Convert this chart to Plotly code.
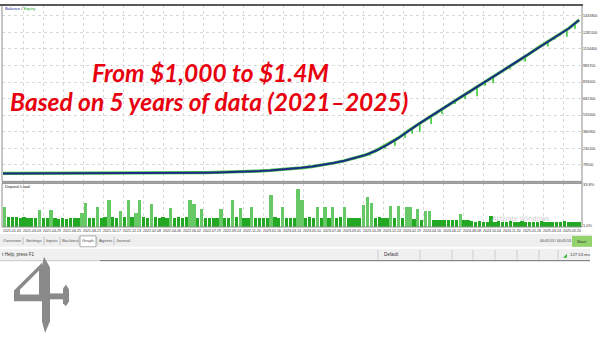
import plotly.graph_objects as go
import pandas as pd

# ---------------- data ----------------
balance = [1000, 1080, 1160, 1250, 1360, 1480, 1600, 1750, 1920, 2100, 2350, 2600,
           2900, 3300, 3700, 4200, 4900, 5800, 7000, 8600, 10400, 12500, 15000, 18500,
           23000, 28500, 35000, 43000, 52000, 64000, 78000, 96000, 117000, 140000, 170000, 210000,
           262000, 322000, 390000, 455000, 517000, 578000, 640000, 702000, 764000, 826000,
           888000, 950000, 1011000, 1073000, 1135000, 1197000, 1259000, 1321000, 1398000]

dip_dates = ["2023-02-11", "2023-10-05", "2023-11-17", "2023-12-30", "2024-01-27", "2024-02-25",
             "2024-03-16", "2024-04-07", "2024-05-09", "2024-05-26", "2024-06-09", "2024-07-16",
             "2024-08-14", "2024-08-29", "2024-09-17", "2024-10-10", "2024-11-02", "2024-12-20",
             "2025-02-01", "2025-02-15", "2025-04-07", "2025-04-27", "2025-05-11", "2025-05-31",
             "2025-06-23"]
dip_top = [26000, 140000, 185000, 245000, 295000, 373000, 413000, 461000, 524000, 560000, 588000,
           663000, 721000, 752000, 791000, 835000, 884000, 982000, 1070000, 1098000, 1202000,
           1245000, 1275000, 1312000, 1358000]
dip_low = [20000, 128000, 163000, 225000, 254000, 326000, 362000, 380000, 452000, 540000, 542000,
           633000, 678000, 730000, 705000, 800000, 822000, 949000, 1021000, 1085000, 1156000,
           1220000, 1250000, 1246000, 1319000]

deposit_load = [15.5, 8, 7.5, 8, 7, 7.5, 7, 6.5, 7, 13, 7, 6.5, 13, 7, 6, 6.5, 6, 7, 6.5, 7,
                11, 18.5, 7, 6.5, 15.5, 7, 7.5, 21, 8, 7, 12, 7.5, 21, 8, 11, 21, 7.5, 7, 17.8, 8,
                7, 7.5, 7, 14.7, 7, 7.5, 7, 8, 21, 17.8, 7, 13.9, 7, 6.5, 7, 6.5, 13.9, 7, 7, 21,
                7.5, 14.7, 7, 7, 15.5, 7, 6.5, 7, 7, 24.7, 7.5, 7, 15.5, 7, 7, 7, 30, 21, 7, 7.5,
                7, 15.5, 7, 15.5, 7, 15.5, 7, 7.5, 15.5, 7, 7, 6.5, 7, 17, 23.2, 18.5, 7, 7.5, 7, 7,
                16.2, 7, 16.2, 6.5, 15.5, 15.5, 6, 13.9, 5.5, 12.4, 12.4, 5.5, 5.5, 5, 5.5, 5.5, 5, 5.5, 10, 5.5,
                5, 4.5, 4, 4.5, 4, 4, 8.5, 4, 4.5, 4, 4, 4.5, 4, 4, 4.5, 4, 3.5, 4, 4, 4.5,
                4, 4, 3.5, 4, 4, 4.5, 4, 4, 4, 4]

date_labels = ["2021.01.05", "2021.03.03", "2021.04.29", "2021.06.25", "2021.08.21", "2021.10.17",
               "2021.12.13", "2022.02.08", "2022.04.06", "2022.06.02", "2022.07.29", "2022.09.24",
               "2022.11.20", "2023.01.16", "2023.03.14", "2023.05.10", "2023.07.06", "2023.09.01",
               "2023.10.28", "2023.12.24", "2024.02.19", "2024.04.16", "2024.06.12", "2024.08.08",
               "2024.10.04", "2024.11.30", "2025.01.26", "2025.03.24", "2025.05.20"]

balance_ticks = [79500, 230200, 380900, 531600, 682300, 833000, 983700, 1134400, 1285100, 1435800]
load_ticks = [33.8, 1.0]
load_tick_text = ["33.8%", "1.0%"]

tabs = ["Overview", "Settings", "Inputs", "Backtest", "Graph", "Agents", "Journal"]

# ---------------- geometry helpers ----------------
W, H = 600, 338
def px(x): return x / W
def py(y): return 1 - y / H

START = pd.Timestamp("2021-01-05")
DPP = 2.85   # days per pixel on the time axis
X0 = 3
def xdate(x): return START + pd.Timedelta(days=(x - X0) * DPP)

balance_dates = [START + pd.DateOffset(months=i) for i in range(len(balance))]
load_dates = pd.date_range("2021-01-10", periods=len(deposit_load), freq="11D")
grid_dates = [pd.Timestamp(d.replace(".", "-")) for d in date_labels]

fig = go.Figure()

# equity dips
sx, sy = [], []
for d, t, l in zip(dip_dates, dip_top, dip_low):
    sx += [pd.Timestamp(d), pd.Timestamp(d), None]
    sy += [t, l, None]
fig.add_trace(go.Scatter(x=sx, y=sy, mode="lines", line=dict(color="#3cc83c", width=1.6),
                         xaxis="x", yaxis="y", hoverinfo="skip", showlegend=False))
fig.add_trace(go.Scatter(x=balance_dates, y=balance, mode="lines",
                         line=dict(color="#4cc84c", width=3.2),
                         xaxis="x", yaxis="y", hoverinfo="skip", showlegend=False))
fig.add_trace(go.Scatter(x=balance_dates, y=balance, mode="lines",
                         line=dict(color="#1d2b84", width=2),
                         xaxis="x", yaxis="y", hoverinfo="skip", showlegend=False))

bar_colors = ["#66c966" if v > 9 else "#22a822" for v in deposit_load]
fig.add_trace(go.Bar(x=load_dates, y=deposit_load, marker=dict(color=bar_colors, line=dict(width=0)),
                     width=11 * 86400000 * 0.85, xaxis="x2", yaxis="y2",
                     hoverinfo="skip", showlegend=False))

xr = [xdate(2), xdate(582)]
grid = dict(showgrid=True, gridcolor="#d9d9d9", griddash="dot", gridwidth=1, zeroline=False)

fig.update_layout(
    width=W, height=H, margin=dict(l=0, r=0, t=0, b=0),
    paper_bgcolor="white", plot_bgcolor="white", bargap=0,
    xaxis=dict(domain=[px(2), px(582)], range=xr, type="date", tickvals=grid_dates,
               showticklabels=False, ticks="", anchor="y", **grid),
    yaxis=dict(domain=[py(181), py(3)], range=[-71200, 1535100], side="right",
               tickvals=balance_ticks, ticktext=[str(v) for v in balance_ticks],
               tickfont=dict(size=3.7, color="#333", family="Liberation Sans"),
               ticks="", anchor="x", **grid),
    xaxis2=dict(domain=[px(2), px(582)], range=xr, type="date", tickvals=grid_dates,
                ticktext=date_labels, tickangle=0, ticklabelposition="outside right",
                tickfont=dict(size=3.6, color="#333", family="Liberation Sans"),
                ticks="", anchor="y2", **grid),
    yaxis2=dict(domain=[py(227), py(183)], range=[0, 34.5], side="right",
                tickvals=load_ticks, ticktext=load_tick_text,
                tickfont=dict(size=4, color="#333", family="Liberation Sans"),
                ticks="", showgrid=False, zeroline=False, anchor="x2"),
)

shapes = []
def rect(x0, y0, x1, y1, fill=None, line=None, lw=1, layer="above"):
    shapes.append(dict(type="rect", xref="paper", yref="paper", x0=px(x0), y0=py(y1),
                       x1=px(x1), y1=py(y0), fillcolor=fill or "rgba(0,0,0,0)",
                       line=dict(color=line or "rgba(0,0,0,0)", width=lw if line else 0), layer=layer))
def hline(x0, x1, y, color, w=1):
    shapes.append(dict(type="line", xref="paper", yref="paper", x0=px(x0), x1=px(x1),
                       y0=py(y), y1=py(y), line=dict(color=color, width=w)))
def vline(x, y0, y1, color, w=1):
    shapes.append(dict(type="line", xref="paper", yref="paper", x0=px(x), x1=px(x),
                       y0=py(y0), y1=py(y1), line=dict(color=color, width=w)))
def poly(pts, color):
    path = "M " + " L ".join(f"{px(x):.5f},{py(y):.5f}" for x, y in pts) + " Z"
    shapes.append(dict(type="path", xref="paper", yref="paper", path=path,
                       fillcolor=color, line=dict(width=0)))

# panel frames
rect(2, 3, 582, 181, line="#8c8c8c")
rect(2, 183, 582, 227, line="#8c8c8c")
hline(0, 583, 3, "#5a5a5a", 2)
hline(2, 583, 182, "#9a9a9a", 1)

# tab bar
rect(0, 234, 592, 247, fill="#efefef")
rect(80, 236, 96, 247, fill="#ffffff", line="#9a9a9a", lw=0.8)
for sx_ in [23, 44, 60, 79, 97, 114]:
    vline(sx_, 237, 245, "#b8b8b8", 0.8)
rect(572, 236, 592, 247, fill="#93d36b")

# status bar
rect(0, 249, 590, 261, fill="#f0f0f0")
for sx_ in [378, 420, 452, 473, 495, 517, 539, 558]:
    vline(sx_, 250, 260, "#c4c4c4", 0.8)
hline(0, 100, 261, "#c8c8c8", 1)
hline(100, 590, 261, "#707070", 1)
poly([(563, 258), (567, 254), (567, 258)], "#3cb83c")

# logo
logo = "#8a8a8a"
poly([(42, 263), (42, 302), (14, 302), (14, 291)], logo)
poly([(39, 271), (39, 295), (20, 295), (20, 290)], "#ffffff")
poly([(44, 257), (50, 268), (50, 322), (45, 334), (42, 322), (42, 266)], logo)
poly([(50, 294), (64, 294), (64, 300), (50, 300)], logo)
poly([(63, 289), (66, 285), (69, 290), (69, 302), (66, 307), (63, 304)], logo)

fig.update_layout(shapes=shapes)

anns = []
def text(x, y, s, size, color="#333", anchor="left", family="Liberation Sans", **kw):
    anns.append(dict(xref="paper", yref="paper", x=px(x), y=py(y), text=s, showarrow=False,
                     xanchor=anchor, yanchor="middle",
                     font=dict(size=size, color=color, family=family, **kw)))

text(3, 7, "<span style='color:#2233a0'>Balance</span> / <span style='color:#2aa82a'>Equity</span>", 4.2)
text(3, 186, "Deposit Load", 4.2, "#222")
tab_x = [12.5, 33.5, 52, 70, 88, 105, 122.5]
for t, x in zip(tabs, tab_x):
    text(x, 241, t, 4.3, "#555", anchor="center")
text(555, 241, "00:05:53 / 00:05:53", 3.6, "#444", anchor="center")
text(582, 241.5, "Start", 4.3, "#333", anchor="center")
text(0, 255, "r Help, press F1", 4.5, "#333")
text(382, 255, "Default", 4.5, "#333")
text(568, 255, "127.53 ms", 4.3, "#333")
text(521, 218, "Activate Windows", 7, "#cfcfcf", anchor="center", family="Open Sans")

title_font = dict(weight="bold", style="italic")
text(210, 71, "From $1,000 to $1.4M", 24.5, "#e8000e", anchor="center", family="Lato", **title_font)
text(209, 100, "Based on 5 years of data (2021\u20132025)", 24.5, "#e8000e", anchor="center",
     family="Lato", **title_font)

fig.update_layout(annotations=anns)
fig.write_html("out.html")
